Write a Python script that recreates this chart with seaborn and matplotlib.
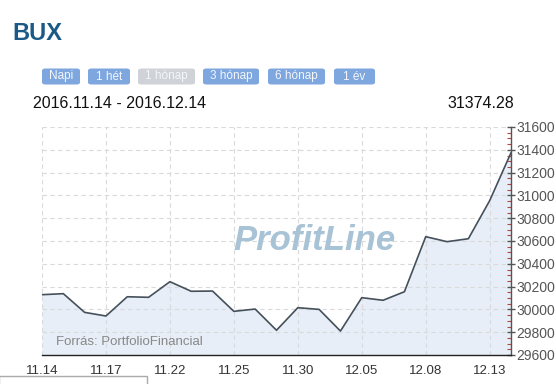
import matplotlib
matplotlib.use("Agg")
import matplotlib.pyplot as plt
from matplotlib.patches import FancyBboxPatch, Rectangle
from matplotlib.ticker import MultipleLocator
import seaborn as sns
import numpy as np

# ---- data ----
dates = ["11.14", "11.15", "11.16", "11.17", "11.18", "11.21", "11.22", "11.23",
         "11.24", "11.25", "11.28", "11.29", "11.30", "12.01", "12.02", "12.05",
         "12.06", "12.07", "12.08", "12.09", "12.12", "12.13", "12.14"]
values = [30129, 30138, 29974, 29942, 30111, 30106, 30243, 30159,
          30161, 29983, 30003, 29817, 30015, 30000, 29810, 30103,
          30080, 30155, 30638, 30594, 30620, 30954, 31374.28]
y_ticks = [29600, 29800, 30000, 30200, 30400, 30600, 30800, 31000, 31200, 31400, 31600]
buttons = ["Napi", "1 hét", "1 hónap", "3 hónap", "6 hónap", "1 év"]
title = "BUX"
range_text = "2016.11.14 - 2016.12.14"
last_text = "31374.28"
source_text = "Forrás: PortfolioFinancial"
watermark = "ProfitLine"

sns.set_style("white")
plt.rcParams['font.family'] = ['Liberation Sans', 'DejaVu Sans']

W, H = 556, 384
fig = plt.figure(figsize=(W / 100, H / 100), dpi=100)
fig.patch.set_facecolor("white")

def fx(px):
    return px / W

def fy(py):
    return 1 - py / H

# axes: x 42..511, y 127..355
ax = fig.add_axes([fx(42), fy(355), fx(511) - fx(42), fy(127) - fy(355)])
ax.set_facecolor("white")

idx = np.arange(len(dates))
ax.fill_between(idx, values, y_ticks[0], color="#e7eef7", zorder=0.1, linewidth=0)
sns.lineplot(x=idx, y=values, ax=ax, color="#44505a", linewidth=1.2, zorder=3)

ax.set_xlim(0, len(dates) - 1)
ax.set_ylim(y_ticks[0], y_ticks[-1])

tick_pos = idx[::3]
ax.set_xticks(tick_pos)
ax.set_xticklabels([dates[i] for i in tick_pos])
ax.set_yticks(y_ticks)
ax.yaxis.set_minor_locator(MultipleLocator(50))
ax.yaxis.tick_right()
ax.yaxis.set_label_position("right")

ax.grid(True, which="major", color="#dadada", linestyle=(0, (4, 3)), linewidth=0.8)
ax.set_axisbelow(True)

for s in ["top", "left"]:
    ax.spines[s].set_visible(False)
ax.spines["bottom"].set_color("#222222")
ax.spines["bottom"].set_linewidth(1.0)
ax.spines["right"].set_color("#555555")
ax.spines["right"].set_linewidth(1.0)

ax.tick_params(axis="x", which="major", direction="inout", length=6, width=1,
               color="#222222", labelsize=9.5, labelcolor="#333333", pad=4)
ax.tick_params(axis="y", which="major", direction="inout", length=6, width=1,
               color="#555555", labelsize=10, labelcolor="#555555", pad=1,
               right=True, left=False)
ax.tick_params(axis="y", which="minor", direction="in", length=3, width=0.8,
               color="#b04848", right=True, left=False)
ax.set_xlabel("")
ax.set_ylabel("")

# watermark and source
ax.text(0.58, 0.50, watermark, transform=ax.transAxes, fontsize=25, fontweight="heavy",
        fontstyle="italic", color="#a9c3d6", ha="center", va="center", zorder=2)
fig.text(fx(56), fy(342), source_text, fontsize=9.5, color="#888888", ha="left", va="center")

# header
fig.text(fx(12), fy(33.5), title, fontsize=17, fontweight="bold", color="#1b5a87",
         ha="left", va="center")
fig.text(fx(33), fy(104), range_text, fontsize=11.5, color="#111111", ha="left", va="center")
fig.text(fx(514), fy(104), last_text, fontsize=11.5, color="#111111", ha="right", va="center")

# buttons
btn_x = [(42, 80), (88, 130), (138, 195), (203, 259), (268, 325), (334, 375)]
for (x0, x1), lab in zip(btn_x, buttons):
    active = lab == "1 hónap"
    fc = "#cfd3d8" if active else "#7ea6df"
    box = FancyBboxPatch((fx(x0), fy(84.5)), fx(x1 - x0), fy(68.5) - fy(84.5),
                         boxstyle="round,pad=0,rounding_size=0.006",
                         transform=fig.transFigure, facecolor=fc, edgecolor="none")
    fig.patches.append(box)
    fig.text(fx((x0 + x1) / 2), fy(76.5), lab, fontsize=8.5, color="#f4f6fa",
             ha="center", va="center")

# bottom-left box
fig.patches.append(Rectangle((fx(-1), fy(390)), fx(148), fy(376) - fy(390),
                             transform=fig.transFigure, facecolor="white",
                             edgecolor="#aaaaaa", linewidth=1))

fig.savefig("out.png", dpi=100, facecolor="white")
